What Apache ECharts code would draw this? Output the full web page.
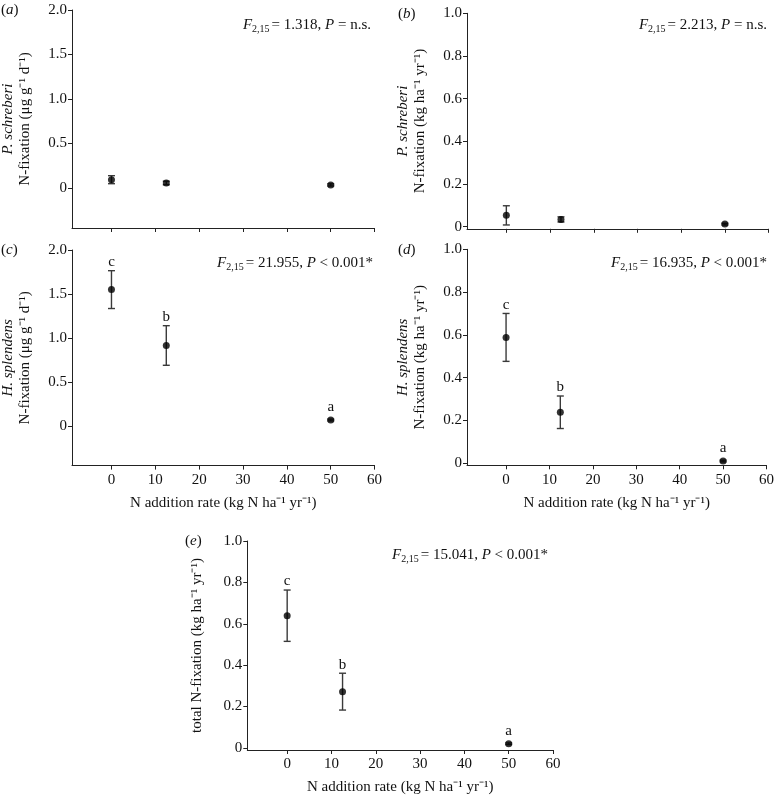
<!DOCTYPE html>
<html><head><meta charset="utf-8">
<script src="https://cdn.jsdelivr.net/npm/echarts@6/dist/echarts.min.js"></script>
<style>html,body{margin:0;padding:0;background:#fff}#c{width:777px;height:796px}</style>
</head><body><div id="c"></div>
<script>
// ---- data ----
const nRates = [0, 12.5, 50];
const xTicks = [0, 10, 20, 30, 40, 50, 60];
const yTicksUg = [0, 0.5, 1.0, 1.5, 2.0];
const yTicksKg = [0, 0.2, 0.4, 0.6, 0.8, 1.0];

const aMean = [0.093, 0.056, 0.034];
const aErr  = [0.045, 0.02, 0.012];
const bMean = [0.053, 0.034, 0.012];
const bErr  = [0.045, 0.012, 0.004];
const cMean = [1.55, 0.915, 0.068];
const cErr  = [0.215, 0.225, 0.01];
const cLetters = ['c', 'b', 'a'];
const dMean = [0.588, 0.238, 0.01];
const dErr  = [0.112, 0.076, 0.004];
const dLetters = ['c', 'b', 'a'];
const eMean = [0.639, 0.272, 0.02];
const eErr  = [0.124, 0.089, 0.004];
const eLetters = ['c', 'b', 'a'];

const stats = [
  {F: '1.318', P: '= n.s.'},
  {F: '2.213', P: '= n.s.'},
  {F: '21.955', P: '< 0.001*'},
  {F: '16.935', P: '< 0.001*'},
  {F: '15.041', P: '< 0.001*'}
];

// ---- chart ----
const FONT = 'Liberation Serif';
const FS = 15;
const chart = echarts.init(document.getElementById('c'));

const grids = [
  {left: 71, top: 10, width: 303.6, height: 218},
  {left: 467, top: 13.3, width: 301.6, height: 215.5},
  {left: 71, top: 250, width: 303.6, height: 215.6},
  {left: 467, top: 249.3, width: 301.6, height: 216},
  {left: 247.3, top: 541, width: 305.7, height: 215.5}
];

const axisLineStyle = {color: '#222', width: 1};
function makeX(i, showLabels) {
  return {
    type: 'value', gridIndex: i, min: -9, max: 60,
    axisLine: {show: true, onZero: false, lineStyle: axisLineStyle},
    axisTick: {show: true, length: 4, customValues: xTicks, lineStyle: axisLineStyle},
    axisLabel: {show: showLabels, customValues: xTicks, margin: 7, color: '#111', fontFamily: FONT, fontSize: FS},
    splitLine: {show: false},
    name: showLabels ? 'N addition rate (kg N ha⁻¹ yr⁻¹)' : '',
    nameLocation: 'middle', nameGap: 30,
    nameTextStyle: {color: '#111', fontFamily: FONT, fontSize: FS}
  };
}
const rich = {
  it: {fontStyle: 'italic', fontFamily: FONT, fontSize: FS, color: '#111', lineHeight: 17},
  n: {fontFamily: FONT, fontSize: FS, color: '#111', lineHeight: 17}
};
function makeY(i, min, max, ticks, name, gap) {
  return {
    type: 'value', gridIndex: i, min: min, max: max,
    axisLine: {show: true, onZero: false, lineStyle: axisLineStyle},
    axisTick: {show: true, length: 4, customValues: ticks, lineStyle: axisLineStyle},
    axisLabel: {customValues: ticks, margin: 5, color: '#111', fontFamily: FONT, fontSize: FS,
      formatter: v => v === 0 ? '0' : v.toFixed(1)},
    splitLine: {show: false},
    name: name, nameLocation: 'middle', nameRotate: 90, nameGap: gap,
    nameTextStyle: {rich: rich, align: 'center'}
  };
}

const xAxes = [makeX(0, false), makeX(1, false), makeX(2, true), makeX(3, true), makeX(4, true)];
const yAxes = [
  makeY(0, -0.45, 2.0, yTicksUg, '{it|P. schreberi}\n{n|N-fixation (μg g⁻¹ d⁻¹)}', 38),
  makeY(1, -0.01, 1.0, yTicksKg, '{it|P. schreberi}\n{n|N-fixation (kg ha⁻¹ yr⁻¹)}', 38),
  makeY(2, -0.45, 2.0, yTicksUg, '{it|H. splendens}\n{n|N-fixation (μg g⁻¹ d⁻¹)}', 38),
  makeY(3, -0.01, 1.0, yTicksKg, '{it|H. splendens}\n{n|N-fixation (kg ha⁻¹ yr⁻¹)}', 38),
  makeY(4, -0.01, 1.0, yTicksKg, '{n|total N-fixation (kg ha⁻¹ yr⁻¹)}', 42)
];

function errData(mean, err, letters) {
  return nRates.map((x, k) => [x, mean[k] - err[k], mean[k] + err[k], mean[k], letters ? letters[k] : '']);
}
function renderErr(params, api) {
  const x = api.value(0), lo = api.value(1), hi = api.value(2), m = api.value(3);
  const letter = api.value(4);
  const t = api.coord([x, hi]), b = api.coord([x, lo]), p = api.coord([x, m]);
  const cap = 3.5;
  const st = {stroke: '#3a3a3a', lineWidth: 1.4};
  const children = [
    {type: 'line', shape: {x1: t[0], y1: t[1], x2: b[0], y2: b[1]}, style: st},
    {type: 'line', shape: {x1: t[0] - cap, y1: t[1], x2: t[0] + cap, y2: t[1]}, style: st},
    {type: 'line', shape: {x1: b[0] - cap, y1: b[1], x2: b[0] + cap, y2: b[1]}, style: st}
  ];
  if (letter) {
    const yTop = Math.min(t[1], p[1] - 4) - 1;
    children.push({type: 'text', x: t[0], y: yTop,
      style: {text: letter, fontFamily: FONT, fontSize: FS, fill: '#111', align: 'center', verticalAlign: 'bottom'}});
  }
  return {type: 'group', children: children};
}

const sets = [
  [aMean, aErr, null], [bMean, bErr, null], [cMean, cErr, cLetters], [dMean, dErr, dLetters], [eMean, eErr, eLetters]
];
const series = [];
sets.forEach((s, i) => {
  series.push({type: 'custom', xAxisIndex: i, yAxisIndex: i, renderItem: renderErr,
    data: errData(s[0], s[1], s[2]), encode: {x: 0, y: [1, 2]}, z: 2, silent: true});
  series.push({type: 'scatter', xAxisIndex: i, yAxisIndex: i, symbol: 'circle', symbolSize: 7,
    itemStyle: {color: '#000'}, data: nRates.map((x, k) => [x, s[0][k]]), z: 3, silent: true});
});

const srich = {
  i: {fontStyle: 'italic', fontFamily: FONT, fontSize: FS, fill: '#111', lineHeight: 18, verticalAlign: 'middle'},
  s: {fontFamily: FONT, fontSize: 10, fill: '#111', lineHeight: 10, verticalAlign: 'bottom', padding: [6, 2, 0, 0]},
  n: {fontFamily: FONT, fontSize: FS, fill: '#111', lineHeight: 18, verticalAlign: 'middle'}
};
const statPos = [[371, 25], [767, 25], [373, 263], [767, 263], [548, 555]];
const panelLabels = ['a', 'b', 'c', 'd', 'e'];
const labelPos = [[1, 10], [398, 14], [1, 250], [398, 250], [185, 541]];
const graphics = [];
stats.forEach((s, i) => {
  graphics.push({type: 'text', x: statPos[i][0], y: statPos[i][1],
    style: {text: '{i|F}{s|2,15}{n|= ' + s.F + ', }{i|P}{n| ' + s.P + '}', rich: srich,
      align: 'right', verticalAlign: 'middle'}});
  graphics.push({type: 'text', x: labelPos[i][0], y: labelPos[i][1],
    style: {text: '{n|(}{i|' + panelLabels[i] + '}{n|)}', rich: srich, align: 'left', verticalAlign: 'middle'}});
});

chart.setOption({
  animation: false,
  backgroundColor: '#fff',
  grid: grids,
  xAxis: xAxes,
  yAxis: yAxes,
  series: series,
  graphic: graphics
});
</script></body></html>
